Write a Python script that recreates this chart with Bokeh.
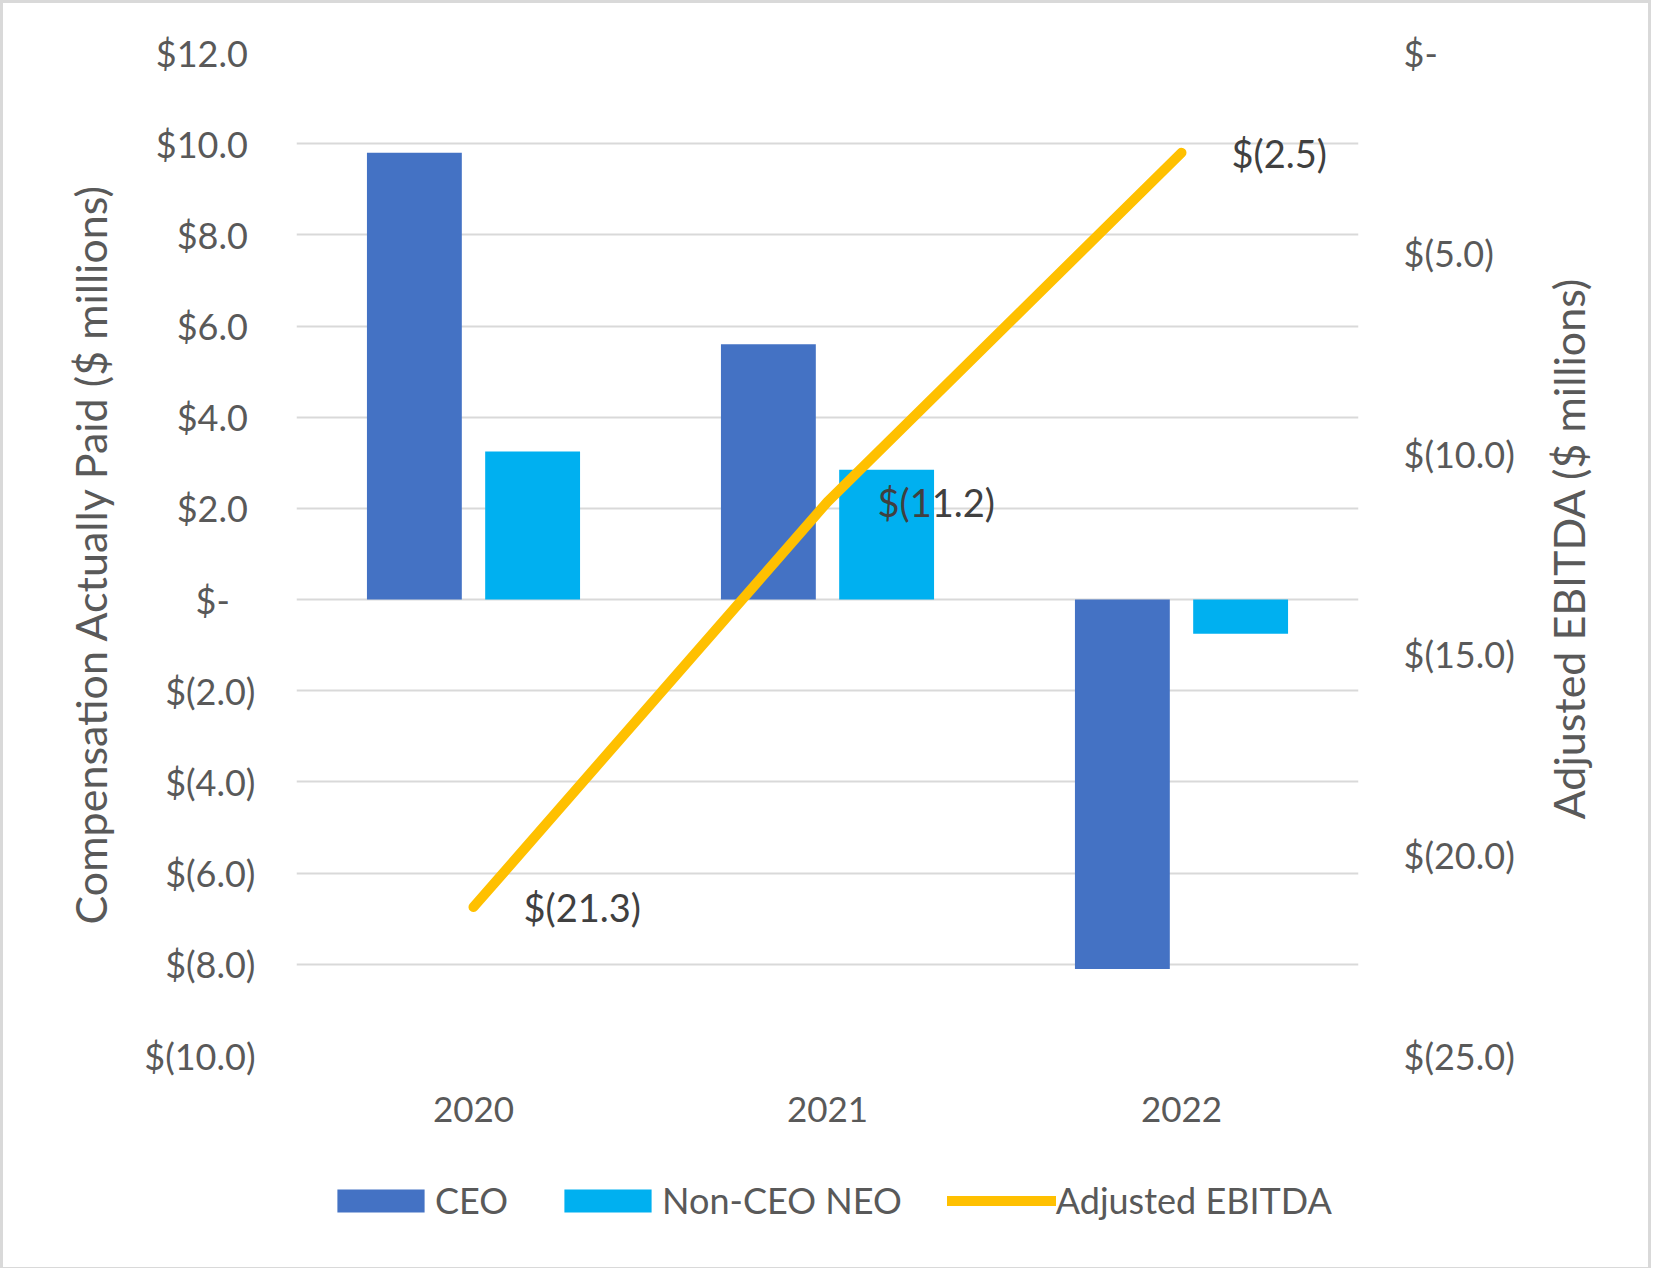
from bokeh.plotting import figure
from bokeh.layouts import column, row
from bokeh.models import (Range1d, LinearAxis, FixedTicker, CustomJSTickFormatter,
                          Legend, LegendItem, ColumnDataSource, Label)
from bokeh.transform import dodge
from bokeh.core.properties import value
from bokeh.embed import file_html
from bokeh.resources import INLINE

# ---- data ----
years = ["2020", "2021", "2022"]
ceo = [9.8, 5.6, -8.1]
non_ceo = [3.25, 2.85, -0.75]
ebitda = [-21.3, -11.2, -2.5]
left_ticks = [-10, -8, -6, -4, -2, 0, 2, 4, 6, 8, 10, 12]
right_ticks = [-25, -20, -15, -10, -5, 0]
series_names = ["CEO", "Non-CEO NEO", "Adjusted EBITDA"]
left_title = "Compensation Actually Paid ($ millions)"
right_title = "Adjusted EBITDA ($ millions)"

FONT = "Lato"
AXIS_COLOR = "#595959"
TICK_FS = "36px"
TITLE_FS = "43px"
CEO_COLOR = "#4472C4"
NEO_COLOR = "#00B0F0"
LINE_COLOR = "#FFC000"
W = 1645
MAIN_W = 1530
MAIN_H = 1142

labels = ["$(%.1f)" % abs(v) if v < 0 else "$%.1f" % v for v in ebitda]
src = ColumnDataSource(dict(year=years, ceo=ceo, non_ceo=non_ceo,
                            ebitda=ebitda, label=labels))

p = figure(x_range=years, y_range=Range1d(-10, 12),
           frame_width=1062, frame_height=1003,
           min_border_left=293, min_border_right=MAIN_W - 293 - 1062,
           min_border_top=49, min_border_bottom=MAIN_H - 49 - 1003,
           output_backend="svg", toolbar_location=None)
p.outline_line_color = None
p.background_fill_color = "white"
p.border_fill_color = "white"
p.extra_y_ranges = {"ebitda": Range1d(-25, 0)}

# accounting-style labels (positive values padded like Excel's "_)")
fmt_left = """
if (Math.abs(tick) < 1e-9) { return '$-\u2002\u2008'; }
const a = Math.abs(tick).toFixed(1);
return tick < 0 ? '$(' + a + ')' : '$' + a + '\u2008';
"""
fmt_right = """
if (Math.abs(tick) < 1e-9) { return '$-'; }
const a = Math.abs(tick).toFixed(1);
return tick < 0 ? '$(' + a + ')' : '$' + a;
"""

# grid
p.xgrid.grid_line_color = None
p.ygrid.grid_line_color = "#D9D9D9"
p.ygrid.grid_line_width = 2
p.ygrid.ticker = FixedTicker(ticks=left_ticks)

# left axis
ly = p.yaxis[0]
ly.ticker = FixedTicker(ticks=left_ticks)
ly.formatter = CustomJSTickFormatter(code=fmt_left)
ly.axis_label = left_title

# right axis
ry = LinearAxis(y_range_name="ebitda", ticker=FixedTicker(ticks=right_ticks),
                formatter=CustomJSTickFormatter(code=fmt_right))
p.add_layout(ry, "right")

for ax in [ly, ry]:
    ax.axis_line_color = None
    ax.major_tick_line_color = None
    ax.minor_tick_line_color = None
    ax.major_label_text_font = FONT
    ax.major_label_text_font_size = TICK_FS
    ax.major_label_text_color = AXIS_COLOR
    ax.axis_label_text_font = FONT
    ax.axis_label_text_font_size = TITLE_FS
    ax.axis_label_text_color = AXIS_COLOR
    ax.axis_label_text_font_style = "normal"
ly.axis_label_standoff = 25
ly.major_label_standoff = 35
ry.major_label_standoff = 39

xa = p.xaxis[0]
xa.axis_line_color = None
xa.major_tick_line_color = None
xa.minor_tick_line_color = None
xa.major_label_text_font = FONT
xa.major_label_text_font_size = "35px"
xa.major_label_text_color = AXIS_COLOR
xa.major_label_standoff = 35

# bars
p.vbar(x=dodge("year", -0.167, range=p.x_range), top="ceo", bottom=0,
       width=0.268, source=src, fill_color=CEO_COLOR, line_color=None)
p.vbar(x=dodge("year", 0.167, range=p.x_range), top="non_ceo", bottom=0,
       width=0.268, source=src, fill_color=NEO_COLOR, line_color=None)

# line
p.line(x="year", y="ebitda", source=src, y_range_name="ebitda",
       line_color=LINE_COLOR, line_width=10, line_cap="round", line_join="round")

p.text(x="year", y="ebitda", text="label", source=src, y_range_name="ebitda",
       x_offset=50, text_align="left", text_baseline="middle",
       text_font=value(FONT), text_font_size="38px", text_color="#404040")

# ---- right-hand axis title (reads bottom-to-top) ----
tw = W - MAIN_W
tfig = figure(width=tw, height=MAIN_H, x_range=Range1d(0, 1), y_range=Range1d(0, 1),
              min_border=0, output_backend="svg", toolbar_location=None)
tfig.axis.visible = False
tfig.grid.visible = False
tfig.outline_line_color = None
tfig.background_fill_color = "white"
tfig.border_fill_color = "white"
tfig.add_layout(Label(x=35 / tw, y=1 - (49 + 1003 / 2 + 14) / MAIN_H, text=right_title,
                      angle=90, angle_units="deg", text_align="center",
                      text_baseline="middle", text_font=FONT,
                      text_font_size=TITLE_FS, text_color=AXIS_COLOR))

# ---- legend strip below the chart ----
LEG_H = 122
leg = figure(width=W, height=LEG_H, x_range=Range1d(0, 1), y_range=Range1d(0, 1),
             min_border=0, output_backend="svg", toolbar_location=None)
leg.axis.visible = False
leg.grid.visible = False
leg.outline_line_color = None
leg.background_fill_color = "white"
leg.border_fill_color = "white"
# off-range placeholder glyphs, only used for the legend swatches
dummy = ColumnDataSource(dict(x=[-5.0], y=[-5.0]))
g1 = leg.vbar(x="x", top="y", width=0.1, source=dummy, fill_color=CEO_COLOR, line_color=None)
g2 = leg.vbar(x="x", top="y", width=0.1, source=dummy, fill_color=NEO_COLOR, line_color=None)
g3 = leg.line(x="x", y="y", source=dummy, line_color=LINE_COLOR, line_width=10,
              line_cap="round")
legend = Legend(items=[LegendItem(label=series_names[0], renderers=[g1]),
                       LegendItem(label=series_names[1], renderers=[g2]),
                       LegendItem(label=series_names[2], renderers=[g3])],
                orientation="horizontal", location=(323, 45),
                glyph_width=109, glyph_height=29, label_standoff=0, spacing=45,
                border_line_color=None, background_fill_alpha=0,
                label_text_font=FONT, label_text_font_size="36px",
                label_text_color=AXIS_COLOR, margin=0, padding=5)
leg.add_layout(legend, "center")

layout = column(row(p, tfig, spacing=0), leg, spacing=0)
layout.styles = {"border": "3px solid #D9D9D9"}

open("out.html", "w").write(file_html(layout, INLINE))
